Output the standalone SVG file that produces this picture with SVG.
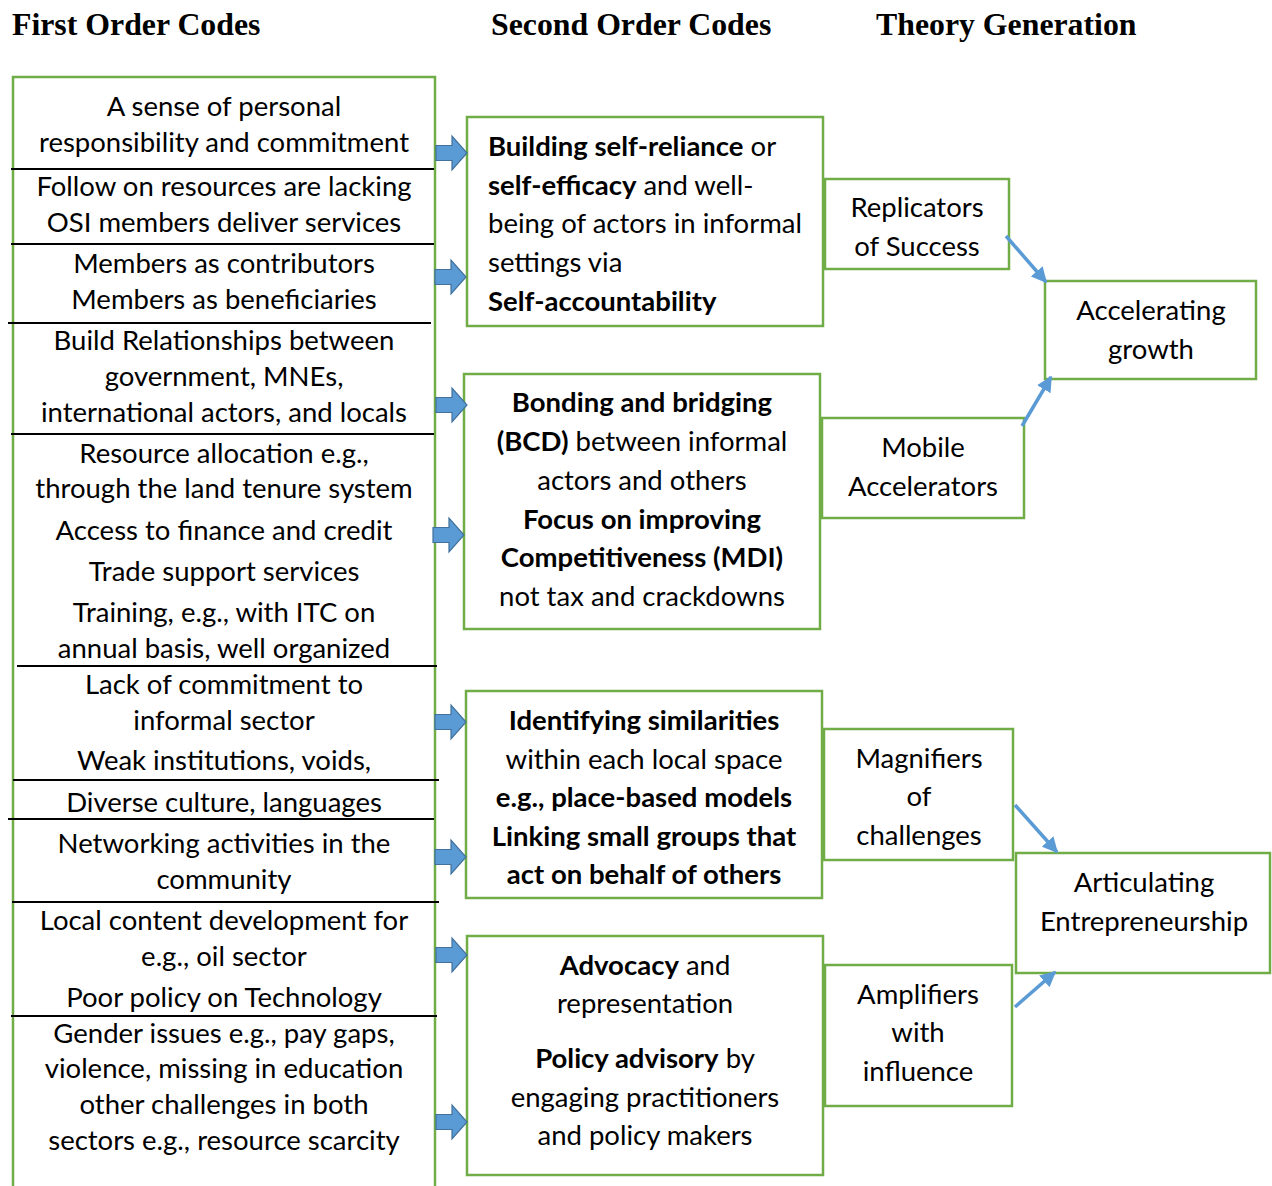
<svg xmlns="http://www.w3.org/2000/svg" xmlns:xlink="http://www.w3.org/1999/xlink" width="1272" height="1186" viewBox="0 0 1272 1186">
  <style>
    .hdr { font-family: "Liberation Serif", "Times New Roman", serif; font-weight: bold; font-size: 31.8px; fill: #000; }
    .t { font-family: Lato, "Open Sans", sans-serif; font-size: 27.5px; fill: #000; }
    .c { text-anchor: middle; }
    .b { font-weight: bold; }
    .box { fill: #fff; stroke: #70AD47; stroke-width: 2.5; }
    .sep { stroke: #000; stroke-width: 2.2; }
    .link { stroke: #5B9BD5; stroke-width: 3.5; fill: none; }
  </style>
  <defs>
    <marker id="head" viewBox="0 0 10 10" refX="9" refY="5" markerWidth="4.5" markerHeight="4.5" orient="auto" markerUnits="strokeWidth">
      <path d="M0,0 L10,5 L0,10 Z" fill="#5B9BD5"/>
    </marker>
    <!-- block arrow, origin at left middle -->
    <path id="blk" d="M0,-7.5 H16 V-17 L31,0 L16,17 V7.5 H0 Z" fill="#5B9BD5" stroke="#41719C" stroke-width="1.2"/>
  </defs>
  <rect width="1272" height="1186" fill="#fff"/>

  <!-- column headings -->
  <text class="hdr" x="12" y="35">First Order Codes</text>
  <text class="hdr" x="491" y="35">Second Order Codes</text>
  <text class="hdr" x="876" y="35">Theory Generation</text>

  <!-- first order codes column -->
  <g id="first-order">
    <rect class="box" x="13" y="77" width="422" height="1120"/>
    <line class="sep" x1="11" y1="169" x2="434" y2="169"/>
    <line class="sep" x1="11" y1="244" x2="434" y2="244"/>
    <line class="sep" x1="8" y1="323" x2="431" y2="323"/>
    <line class="sep" x1="11" y1="434" x2="434" y2="434"/>
    <line class="sep" x1="17" y1="666" x2="437" y2="666"/>
    <line class="sep" x1="13" y1="780" x2="439" y2="780"/>
    <line class="sep" x1="8" y1="819" x2="434" y2="819"/>
    <line class="sep" x1="12" y1="902" x2="439" y2="902"/>
    <line class="sep" x1="11" y1="1016" x2="437" y2="1016"/>
    <g class="t c">
      <text x="224" y="116">A sense of personal</text>
      <text x="224" y="152">responsibility and commitment</text>
      <text x="224" y="196">Follow on resources are lacking</text>
      <text x="224" y="232">OSI members deliver services</text>
      <text x="224" y="273">Members as contributors</text>
      <text x="224" y="309">Members as beneficiaries</text>
      <text x="224" y="350">Build Relationships between</text>
      <text x="224" y="386">government, MNEs,</text>
      <text x="224" y="422">international actors, and locals</text>
      <text x="224" y="463">Resource allocation e.g.,</text>
      <text x="224" y="498">through the land tenure system</text>
      <text x="224" y="540">Access to finance and credit</text>
      <text x="224" y="581">Trade support services</text>
      <text x="224" y="622">Training, e.g., with ITC on</text>
      <text x="224" y="658">annual basis, well organized</text>
      <text x="224" y="694">Lack of commitment to</text>
      <text x="224" y="730">informal sector</text>
      <text x="224" y="770">Weak institutions, voids,</text>
      <text x="224" y="812">Diverse culture, languages</text>
      <text x="224" y="853">Networking activities in the</text>
      <text x="224" y="889">community</text>
      <text x="224" y="930">Local content development for</text>
      <text x="224" y="966">e.g., oil sector</text>
      <text x="224" y="1007">Poor policy on Technology</text>
      <text x="224" y="1043">Gender issues e.g., pay gaps,</text>
      <text x="224" y="1078">violence, missing in education</text>
      <text x="224" y="1114">other challenges in both</text>
      <text x="224" y="1150">sectors e.g., resource scarcity</text>
    </g>
  </g>

  <!-- second order codes -->
  <g id="self-reliance">
    <rect class="box" x="467" y="117" width="356" height="209"/>
    <g class="t">
      <text x="488" y="156"><tspan class="b">Building self-reliance</tspan> or</text>
      <text x="488" y="195"><tspan class="b">self-efficacy</tspan> and well-</text>
      <text x="488" y="233">being of actors in informal</text>
      <text x="488" y="272">settings via</text>
      <text x="488" y="311" class="b">Self-accountability</text>
    </g>
  </g>
  <g id="bonding-bridging">
    <rect class="box" x="464" y="374" width="356" height="255"/>
    <g class="t c">
      <text x="642" y="412" class="b">Bonding and bridging</text>
      <text x="642" y="451"><tspan class="b">(BCD)</tspan> between informal</text>
      <text x="642" y="490">actors and others</text>
      <text x="642" y="529" class="b">Focus on improving</text>
      <text x="642" y="567" class="b">Competitiveness (MDI)</text>
      <text x="642" y="606">not tax and crackdowns</text>
    </g>
  </g>
  <g id="similarities">
    <rect class="box" x="466" y="691" width="356" height="207"/>
    <g class="t c">
      <text x="644" y="730" class="b">Identifying similarities</text>
      <text x="644" y="769">within each local space</text>
      <text x="644" y="807" class="b">e.g., place-based models</text>
      <text x="644" y="846" class="b">Linking small groups that</text>
      <text x="644" y="884" class="b">act on behalf of others</text>
    </g>
  </g>
  <g id="advocacy">
    <rect class="box" x="467" y="936" width="356" height="239"/>
    <g class="t c">
      <text x="645" y="975"><tspan class="b">Advocacy</tspan> and</text>
      <text x="645" y="1013">representation</text>
      <text x="645" y="1068"><tspan class="b">Policy advisory</tspan> by</text>
      <text x="645" y="1107">engaging practitioners</text>
      <text x="645" y="1145">and policy makers</text>
    </g>
  </g>

  <!-- theory generation -->
  <g id="replicators">
    <rect class="box" x="825" y="179" width="184" height="90"/>
    <g class="t c">
      <text x="917" y="217">Replicators</text>
      <text x="917" y="256">of Success</text>
    </g>
  </g>
  <g id="mobile-accelerators">
    <rect class="box" x="822" y="418" width="202" height="100"/>
    <g class="t c">
      <text x="923" y="457">Mobile</text>
      <text x="923" y="496">Accelerators</text>
    </g>
  </g>
  <g id="accelerating-growth">
    <rect class="box" x="1045" y="281" width="211" height="98"/>
    <g class="t c">
      <text x="1151" y="320">Accelerating</text>
      <text x="1151" y="359">growth</text>
    </g>
  </g>
  <g id="magnifiers">
    <rect class="box" x="824" y="729" width="189" height="131"/>
    <g class="t c">
      <text x="919" y="768">Magnifiers</text>
      <text x="919" y="806">of</text>
      <text x="919" y="845">challenges</text>
    </g>
  </g>
  <g id="amplifiers">
    <rect class="box" x="825" y="965" width="187" height="141"/>
    <g class="t c">
      <text x="918" y="1004">Amplifiers</text>
      <text x="918" y="1042">with</text>
      <text x="918" y="1081">influence</text>
    </g>
  </g>
  <g id="articulating">
    <rect class="box" x="1016" y="853" width="254" height="120"/>
    <g class="t c">
      <text x="1144" y="892">Articulating</text>
      <text x="1144" y="931">Entrepreneurship</text>
    </g>
  </g>

  <!-- connectors -->
  <g id="connectors">
    <use xlink:href="#blk" x="436" y="153"/>
    <use xlink:href="#blk" x="435" y="277"/>
    <use xlink:href="#blk" x="436" y="405"/>
    <use xlink:href="#blk" x="433" y="535"/>
    <use xlink:href="#blk" x="435" y="722"/>
    <use xlink:href="#blk" x="435" y="857"/>
    <use xlink:href="#blk" x="436" y="955"/>
    <use xlink:href="#blk" x="436" y="1122"/>
    <line class="link" x1="1006" y1="236" x2="1046" y2="282" marker-end="url(#head)"/>
    <line class="link" x1="1022" y1="426" x2="1051" y2="377" marker-end="url(#head)"/>
    <line class="link" x1="1015" y1="805" x2="1057" y2="852" marker-end="url(#head)"/>
    <line class="link" x1="1015" y1="1007" x2="1055" y2="972" marker-end="url(#head)"/>
  </g>
</svg>
